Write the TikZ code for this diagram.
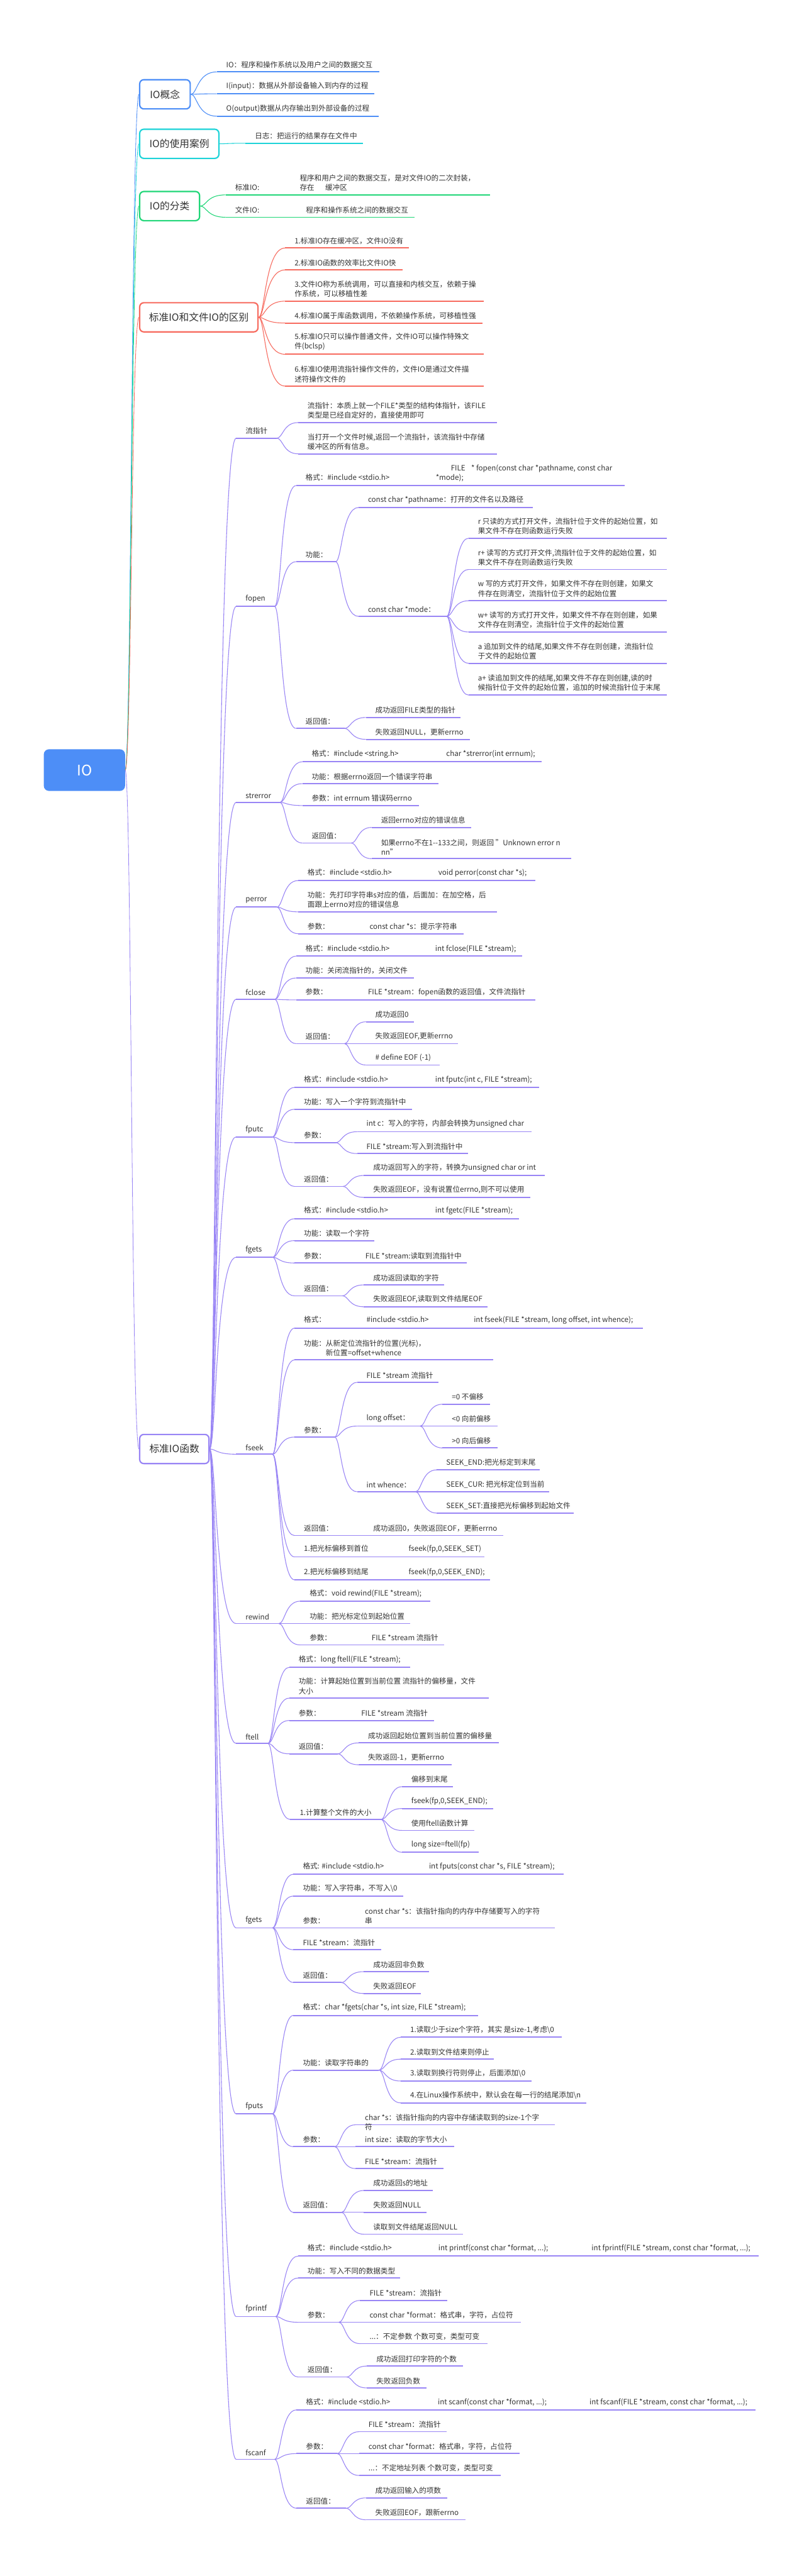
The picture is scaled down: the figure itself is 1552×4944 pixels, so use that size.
\documentclass[tikz,border=0pt]{standalone}
\usepackage{fontspec}
\setmainfont{Noto Sans CJK SC}
\definecolor{paper}{HTML}{FFFFFF}
\definecolor{ink}{HTML}{333333}
\definecolor{azure}{HTML}{4D8EF7}
\definecolor{aqua}{HTML}{1DD3D8}
\definecolor{mint}{HTML}{1FD677}
\definecolor{coral}{HTML}{F76A5E}
\definecolor{lilac}{HTML}{9985F5}
\colorlet{brc}{azure}
\newcommand{\leaffont}{\fontsize{14}{18.5}\selectfont}
\newcommand{\catfont}{\fontsize{19}{22}\selectfont}
\newcommand{\rootfont}{\fontsize{28}{32}\selectfont}
\tikzset{
  twig/.style={draw=brc,line width=2.2pt},
  limb/.style={draw=brc,line width=1.3pt},
  rootlimb/.style={draw=brc,line width=1pt},
  leaf/.style={anchor=south west,inner sep=0pt,align=left,font=\leaffont,text=ink},
  catbox/.style={draw=brc,fill=paper,line width=2.6pt,rounded corners=8pt,
                 minimum height=56pt,inner sep=0pt,font=\catfont,text=ink},
  rootbox/.style={fill=azure,rounded corners=10pt,minimum width=156pt,
                  minimum height=80pt,inner sep=0pt,font=\rootfont,text=white}
}
% name, text x, underline end, underline y, text
\newcommand{\leafrow}[5]{%
  \draw[twig] (#2-18,#4) coordinate (#1-s) -- (#3,#4) coordinate (#1-e);
  \node[leaf] (#1) at (#2,#4-7) {#5};
}
% parent point -> child point
\newcommand{\bough}[3][limb]{%
  \path (#2) ++(12,0) coordinate (bend);
  \draw[#1] (#2) .. controls (bend) and (bend |- #3) .. (#3);
}

\begin{document}
\begin{tikzpicture}[x=1pt,y=-1pt]
  \fill[paper] (0,0) rectangle (1552,4944);
  \useasboundingbox (0,0) rectangle (1552,4944);

  \node[rootbox] (io) at (162,1478) {IO};

  % ======================== IO概念 ========================
  \colorlet{brc}{azure}
  \node[catbox,minimum width=97pt] (gainian) at (316.5,181) {IO概念};
  \bough[rootlimb]{io.east}{gainian.west}
  \leafrow{gn1}{434}{728}{138}{IO：程序和操作系统以及用户之间的数据交互}
  \leafrow{gn2}{434}{718}{180}{I(input)：数据从外部设备输入到内存的过程}
  \leafrow{gn3}{434}{727}{223}{O(output)数据从内存输出到外部设备的过程}
  \foreach \k in {gn1,gn2,gn3}{\bough{gainian.east}{\k-s}}

  % ======================== IO的使用案例 ========================
  \colorlet{brc}{aqua}
  \node[catbox,minimum width=152pt] (anli) at (344,276) {IO的使用案例};
  \bough[rootlimb]{io.east}{anli.west}
  \leafrow{al1}{489}{696}{275}{日志：把运行的结果存在文件中}
  \bough{anli.east}{al1-s}

  % ======================== IO的分类 ========================
  \colorlet{brc}{mint}
  \node[catbox,minimum width=115pt] (fenlei) at (325.5,395.5) {IO的分类};
  \bough[rootlimb]{io.east}{fenlei.west}
  \leafrow{fl1}{451}{940}{374}{\makebox[124pt][l]{标准IO:}\parbox[b]{400pt}{程序和用户之间的数据交互，是对文件IO的二次封装，\\存在\hspace{1.5em}缓冲区}}
  \leafrow{fl2}{451}{795}{417}{\makebox[136pt][l]{文件IO:}程序和操作系统之间的数据交互}
  \foreach \k in {fl1,fl2}{\bough{fenlei.east}{\k-s}}

  % ======================== 标准IO和文件IO的区别 ========================
  \colorlet{brc}{coral}
  \node[catbox,minimum width=227pt] (qubie) at (381.5,609) {标准IO和文件IO的区别};
  \bough[rootlimb]{io.east}{qubie.west}
  \leafrow{qb1}{565}{785}{476}{1.标准IO存在缓冲区，文件IO没有}
  \leafrow{qb2}{565}{772}{518}{2.标准IO函数的效率比文件IO快}
  \leafrow{qb3}{565}{928}{578}{3.文件IO称为系统调用，可以直接和内核交互，依赖于操\\作系统，可以移植性差}
  \leafrow{qb4}{565}{926}{620}{4.标准IO属于库函数调用，不依赖操作系统，可移植性强}
  \leafrow{qb5}{565}{928}{680}{5.标准IO只可以操作普通文件，文件IO可以操作特殊文\\件(bclsp)}
  \leafrow{qb6}{565}{928}{741}{6.标准IO使用流指针操作文件的，文件IO是通过文件描\\述符操作文件的}
  \foreach \k in {qb1,qb2,qb3,qb4,qb5,qb6}{\bough{qubie.east}{\k-s}}

  % ======================== 标准IO函数 ========================
  \colorlet{brc}{lilac}
  \node[catbox,minimum width=133pt] (hanshu) at (334.5,2781) {标准IO函数};
  \bough[rootlimb]{io.east}{hanshu.west}

  \leafrow{lzz}{471}{531}{841}{流指针}
  \leafrow{fopen}{471}{527}{1164}{fopen}
  \leafrow{strerror}{471}{537}{1540}{strerror}
  \leafrow{perror}{471}{531}{1741}{perror}
  \leafrow{fclose}{471}{527}{1918}{fclose}
  \leafrow{fputc}{471}{523}{2182}{fputc}
  \leafrow{fgetc}{471}{523}{2413}{fgets}
  \leafrow{fseek}{471}{523}{2791}{fseek}
  \leafrow{rewind}{471}{535}{3116}{rewind}
  \leafrow{ftell}{471}{514}{3346}{ftell}
  \leafrow{fputs}{471}{523}{3700}{fgets}
  \leafrow{fgets}{471}{523}{4057}{fputs}
  \leafrow{fprintf}{471}{529}{4446}{fprintf}
  \leafrow{fscanf}{471}{527}{4720}{fscanf}
  \foreach \k in {lzz,fopen,strerror,perror,fclose,fputc,fgetc,fseek,rewind,ftell,fputs,fgets,fprintf,fscanf}{
    \bough{hanshu.east}{\k-s}}

  % 流指针
  \leafrow{lz1}{590}{953}{811}{流指针：本质上就一个FILE*类型的结构体指针，该FILE\\类型是已经自定好的，直接使用即可}
  \leafrow{lz2}{590}{953}{871}{当打开一个文件时候,返回一个流指针，该流指针中存储\\缓冲区的所有信息。}
  \foreach \k in {lz1,lz2}{\bough{lzz-e}{\k-s}}

  % fopen
  \leafrow{op1}{586}{1198}{932}{\makebox[250pt][l]{格式：\#include <stdio.h>}\parbox[b]{400pt}{\hspace*{29pt}FILE\hspace{0.8em}* fopen(const char *pathname, const char\\{}*mode);}}
  \leafrow{op2}{586}{644}{1078}{功能：}
  \leafrow{op3}{586}{661}{1398}{返回值：}
  \foreach \k in {op1,op2,op3}{\bough{fopen-e}{\k-s}}
  \leafrow{op2a}{706}{1022}{974}{const char *pathname：打开的文件名以及路径}
  \leafrow{op2b}{706}{857}{1183}{const char *mode：}
  \foreach \k in {op2a,op2b}{\bough{op2-e}{\k-s}}
  \leafrow{md1}{917}{1280}{1033}{r 只读的方式打开文件，流指针位于文件的起始位置，如\\果文件不存在则函数运行失败}
  \leafrow{md2}{917}{1280}{1093}{r+ 读写的方式打开文件,流指针位于文件的起始位置，如\\果文件不存在则函数运行失败}
  \leafrow{md3}{917}{1280}{1153}{w 写的方式打开文件，如果文件不存在则创建，如果文\\件存在则清空，流指针位于文件的起始位置}
  \leafrow{md4}{917}{1280}{1213}{w+ 读写的方式打开文件，如果文件不存在则创建，如果\\文件存在则清空，流指针位于文件的起始位置}
  \leafrow{md5}{917}{1280}{1273}{a 追加到文件的结尾,如果文件不存在则创建，流指针位\\于文件的起始位置}
  \leafrow{md6}{917}{1280}{1334}{a+ 读追加到文件的结尾,如果文件不存在则创建,读的时\\候指针位于文件的起始位置，追加的时候流指针位于末尾}
  \foreach \k in {md1,md2,md3,md4,md5,md6}{\bough{op2b-e}{\k-s}}
  \leafrow{op3a}{720}{883}{1377}{成功返回FILE类型的指针}
  \leafrow{op3b}{720}{902}{1419}{失败返回NULL，更新errno}
  \foreach \k in {op3a,op3b}{\bough{op3-e}{\k-s}}

  % strerror
  \leafrow{se1}{598}{1039}{1462}{\makebox[258pt][l]{格式：\#include <string.h>}char *strerror(int errnum);}
  \leafrow{se2}{598}{841}{1504}{功能：根据errno返回一个错误字符串}
  \leafrow{se3}{598}{804}{1546}{参数：int errnum 错误码errno}
  \leafrow{se4}{598}{674}{1618}{返回值：}
  \foreach \k in {se1,se2,se3,se4}{\bough{strerror-e}{\k-s}}
  \leafrow{se4a}{731}{904}{1588}{返回errno对应的错误信息}
  \leafrow{se4b}{731}{1096}{1648}{如果errno不在1-{}-133之间，则返回 "Unknown error n\\nn"}
  \foreach \k in {se4a,se4b}{\bough{se4-e}{\k-s}}

  % perror
  \leafrow{pe1}{590}{1027}{1690}{\makebox[251pt][l]{格式：\#include <stdio.h>}void perror(const char *s);}
  \leafrow{pe2}{590}{953}{1750}{功能：先打印字符串s对应的值，后面加：在加空格，后\\面跟上errno对应的错误信息}
  \leafrow{pe3}{590}{890}{1792}{\makebox[119pt][l]{参数：}const char *s：提示字符串}
  \foreach \k in {pe1,pe2,pe3}{\bough{perror-e}{\k-s}}

  % fclose
  \leafrow{fc1}{586}{1002}{1835}{\makebox[249pt][l]{格式：\#include <stdio.h>}int fclose(FILE *stream);}
  \leafrow{fc2}{586}{794}{1877}{功能：关闭流指针的，关闭文件}
  \leafrow{fc3}{586}{1027}{1919}{\makebox[120pt][l]{参数：}FILE *stream：fopen函数的返回值，文件流指针}
  \leafrow{fc4}{586}{661}{2003}{返回值：}
  \foreach \k in {fc1,fc2,fc3,fc4}{\bough{fclose-e}{\k-s}}
  \leafrow{fc4a}{720}{794}{1961}{成功返回0}
  \leafrow{fc4b}{720}{879}{2003}{失败返回EOF,更新errno}
  \leafrow{fc4c}{720}{844}{2044}{\# define EOF (-1)}
  \foreach \k in {fc4a,fc4b,fc4c}{\bough{fc4-e}{\k-s}}

  % fputc
  \leafrow{pc1}{583}{1034}{2087}{\makebox[252pt][l]{格式：\#include <stdio.h>}int fputc(int c, FILE *stream);}
  \leafrow{pc2}{583}{790}{2129}{功能：写入一个字符到流指针中}
  \leafrow{pc3}{583}{644}{2193}{参数：}
  \leafrow{pc4}{583}{658}{2277}{返回值：}
  \foreach \k in {pc1,pc2,pc3,pc4}{\bough{fputc-e}{\k-s}}
  \leafrow{pc3a}{703}{1020}{2172}{int c：写入的字符，内部会转换为unsigned char}
  \leafrow{pc3b}{703}{898}{2214}{FILE *stream:写入到流指针中}
  \foreach \k in {pc3a,pc3b}{\bough{pc3-e}{\k-s}}
  \leafrow{pc4a}{716}{1045}{2256}{成功返回写入的字符，转换为unsigned char or int}
  \leafrow{pc4b}{716}{1018}{2298}{失败返回EOF，没有说置位errno,则不可以使用}
  \foreach \k in {pc4a,pc4b}{\bough{pc4-e}{\k-s}}

  % fgetc
  \leafrow{gc1}{583}{996}{2339}{\makebox[252pt][l]{格式：\#include <stdio.h>}int fgetc(FILE *stream);}
  \leafrow{gc2}{583}{718}{2381}{功能：读取一个字符}
  \leafrow{gc3}{583}{896}{2424}{\makebox[118pt][l]{参数：}FILE *stream:读取到流指针中}
  \leafrow{gc4}{583}{657}{2487}{返回值：}
  \foreach \k in {gc1,gc2,gc3,gc4}{\bough{fgetc-e}{\k-s}}
  \leafrow{gc4a}{716}{852}{2466}{成功返回读取的字符}
  \leafrow{gc4b}{716}{936}{2508}{失败返回EOF,读取到文件结尾EOF}
  \foreach \k in {gc4a,gc4b}{\bough{gc4-e}{\k-s}}

  % fseek
  \leafrow{sk1}{583}{1233}{2549}{\makebox[120pt][l]{格式：}\makebox[206pt][l]{\#include <stdio.h>}int fseek(FILE *stream, long offset, int whence);}
  \leafrow{sk2}{583}{946}{2610}{功能：从新定位流指针的位置(光标)，\\\hspace*{42pt}新位置=offset+whence}
  \leafrow{sk3}{583}{642}{2758}{参数：}
  \leafrow{sk4}{583}{966}{2947}{\makebox[133pt][l]{返回值：}成功返回0，失败返回EOF，更新errno}
  \leafrow{sk5}{583}{930}{2988}{\makebox[201pt][l]{1.把光标偏移到首位}fseek(fp,0,SEEK\_SET)}
  \leafrow{sk6}{583}{940}{3032}{\makebox[201pt][l]{2.把光标偏移到结尾}fseek(fp,0,SEEK\_END);}
  \foreach \k in {sk1,sk2,sk3,sk4,sk5,sk6}{\bough{fseek-e}{\k-s}}
  \leafrow{sk3a}{703}{841}{2653}{FILE *stream 流指针}
  \leafrow{sk3b}{703}{806}{2737}{long offset：}
  \leafrow{sk3c}{703}{797}{2863}{int whence：}
  \foreach \k in {sk3a,sk3b,sk3c}{\bough{sk3-e}{\k-s}}
  \leafrow{ofs1}{867}{940}{2695}{=0 不偏移}
  \leafrow{ofs2}{867}{955}{2737}{<0 向前偏移}
  \leafrow{ofs3}{867}{955}{2779}{>0 向后偏移}
  \foreach \k in {ofs1,ofs2,ofs3}{\bough{sk3b-e}{\k-s}}
  \leafrow{wh1}{856}{1036}{2821}{SEEK\_END:把光标定到末尾}
  \leafrow{wh2}{856}{1054}{2863}{SEEK\_CUR: 把光标定位到当前}
  \leafrow{wh3}{856}{1101}{2904}{SEEK\_SET:直接把光标偏移到起始文件}
  \foreach \k in {wh1,wh2,wh3}{\bough{sk3c-e}{\k-s}}

  % rewind
  \leafrow{rw1}{594}{825}{3073}{格式：void rewind(FILE *stream);}
  \leafrow{rw2}{594}{787}{3116}{功能：把光标定位到起始位置}
  \leafrow{rw3}{594}{852}{3157}{\makebox[119pt][l]{参数：}FILE *stream 流指针}
  \foreach \k in {rw1,rw2,rw3}{\bough{rewind-e}{\k-s}}

  % ftell
  \leafrow{tl1}{573}{787}{3200}{格式：long ftell(FILE *stream);}
  \leafrow{tl2}{573}{938}{3259}{功能：计算起始位置到当前位置 流指针的偏移量，文件\\大小}
  \leafrow{tl3}{573}{833}{3302}{\makebox[120pt][l]{参数：}FILE *stream 流指针}
  \leafrow{tl4}{573}{648}{3366}{返回值：}
  \leafrow{tl5}{575}{731}{3492}{1.计算整个文件的大小}
  \foreach \k in {tl1,tl2,tl3,tl4,tl5}{\bough{ftell-e}{\k-s}}
  \leafrow{tl4a}{706}{957}{3345}{成功返回起始位置到当前位置的偏移量}
  \leafrow{tl4b}{706}{867}{3387}{失败返回-1，更新errno}
  \foreach \k in {tl4a,tl4b}{\bough{tl4-e}{\k-s}}
  \leafrow{tl5a}{789}{869}{3429}{偏移到末尾}
  \leafrow{tl5b}{789}{946}{3471}{fseek(fp,0,SEEK\_END);}
  \leafrow{tl5c}{789}{910}{3513}{使用ftell函数计算}
  \leafrow{tl5d}{789}{919}{3555}{long size=ftell(fp)}
  \foreach \k in {tl5a,tl5b,tl5c,tl5d}{\bough{tl5-e}{\k-s}}

  % fputs (labelled fgets)
  \leafrow{ps1}{581}{1081}{3597}{\makebox[242pt][l]{格式: \#include <stdio.h>}int fputs(const char *s, FILE *stream);}
  \leafrow{ps2}{581}{774}{3639}{功能：写入字符串，不写入\textbackslash 0}
  \leafrow{ps3}{581}{1065}{3700}{\makebox[119pt][l]{参数：}\parbox[b]{380pt}{const char *s：该指针指向的内存中存储要写入的字符\\串}}
  \leafrow{ps4}{581}{731}{3742}{FILE *stream：流指针}
  \leafrow{ps5}{581}{655}{3805}{返回值：}
  \foreach \k in {ps1,ps2,ps3,ps4,ps5}{\bough{fputs-e}{\k-s}}
  \leafrow{ps5a}{716}{823}{3784}{成功返回非负数}
  \leafrow{ps5b}{716}{808}{3826}{失败返回EOF}
  \foreach \k in {ps5a,ps5b}{\bough{ps5-e}{\k-s}}

  % fgets (labelled fputs)
  \leafrow{gs1}{581}{917}{3868}{格式：char *fgets(char *s, int size, FILE *stream);}
  \leafrow{gs2}{581}{727}{3973}{功能：读取字符串的}
  \leafrow{gs3}{581}{642}{4120}{参数：}
  \leafrow{gs4}{581}{655}{4246}{返回值：}
  \foreach \k in {gs1,gs2,gs3,gs4}{\bough{fgets-e}{\k-s}}
  \leafrow{gs2a}{787}{1078}{3910}{1.读取少于size个字符，其实 是size-1,考虑\textbackslash 0}
  \leafrow{gs2b}{787}{948}{3952}{2.读取到文件结束则停止}
  \leafrow{gs2c}{787}{1020}{3994}{3.读取到换行符则停止，后面添加\textbackslash 0}
  \leafrow{gs2d}{787}{1125}{4036}{4.在Linux操作系统中，默认会在每一行的结尾添加\textbackslash n}
  \foreach \k in {gs2a,gs2b,gs2c,gs2d}{\bough{gs2-e}{\k-s}}
  \draw[twig] (682,4078) coordinate (gs3a-s) -- (1065,4078) coordinate (gs3a-e);
  \node[leaf] (gs3a) at (700,4089) {char *s：该指针指向的内容中存储读取到的size-1个字\\符};
  \leafrow{gs3b}{700}{871}{4120}{int size：读取的字节大小}
  \leafrow{gs3c}{700}{851}{4162}{FILE *stream：流指针}
  \foreach \k in {gs3a,gs3b,gs3c}{\bough{gs3-e}{\k-s}}
  \leafrow{gs4a}{716}{830}{4204}{成功返回s的地址}
  \leafrow{gs4b}{716}{818}{4246}{失败返回NULL}
  \leafrow{gs4c}{716}{888}{4288}{读取到文件结尾返回NULL}
  \foreach \k in {gs4a,gs4b,gs4c}{\bough{gs4-e}{\k-s}}

  % fprintf
  \leafrow{pf1}{590}{1456}{4330}{\makebox[251pt][l]{格式：\#include <stdio.h>}\makebox[294pt][l]{int printf(const char *format, ...);}int fprintf(FILE *stream, const char *format, ...);}
  \leafrow{pf2}{590}{768}{4372}{功能：写入不同的数据类型}
  \leafrow{pf3}{590}{650}{4457}{参数：}
  \leafrow{pf4}{590}{665}{4562}{返回值：}
  \foreach \k in {pf1,pf2,pf3,pf4}{\bough{fprintf-e}{\k-s}}
  \leafrow{pf3a}{709}{858}{4415}{FILE *stream：流指针}
  \leafrow{pf3b}{709}{999}{4457}{const char *format：格式串，字符，占位符}
  \leafrow{pf3c}{709}{935}{4498}{...：不定参数 个数可变，类型可变}
  \foreach \k in {pf3a,pf3b,pf3c}{\bough{pf3-e}{\k-s}}
  \leafrow{pf4a}{722}{888}{4541}{成功返回打印字符的个数}
  \leafrow{pf4b}{722}{818}{4583}{失败返回负数}
  \foreach \k in {pf4a,pf4b}{\bough{pf4-e}{\k-s}}

  % fscanf
  \leafrow{sf1}{587}{1450}{4625}{\makebox[253pt][l]{格式：\#include <stdio.h>}\makebox[291pt][l]{int scanf(const char *format, ...);}int fscanf(FILE *stream, const char *format, ...);}
  \leafrow{sf2}{587}{647}{4709}{参数：}
  \leafrow{sf3}{587}{664}{4814}{返回值：}
  \foreach \k in {sf1,sf2,sf3}{\bough{fscanf-e}{\k-s}}
  \leafrow{sf2a}{707}{857}{4667}{FILE *stream：流指针}
  \leafrow{sf2b}{707}{997}{4709}{const char *format：格式串，字符，占位符}
  \leafrow{sf2c}{707}{961}{4751}{...：不定地址列表 个数可变，类型可变}
  \foreach \k in {sf2a,sf2b,sf2c}{\bough{sf2-e}{\k-s}}
  \leafrow{sf3a}{720}{858}{4794}{成功返回输入的项数}
  \leafrow{sf3b}{720}{893}{4836}{失败返回EOF，跟新errno}
  \foreach \k in {sf3a,sf3b}{\bough{sf3-e}{\k-s}}
\end{tikzpicture}
\end{document}
